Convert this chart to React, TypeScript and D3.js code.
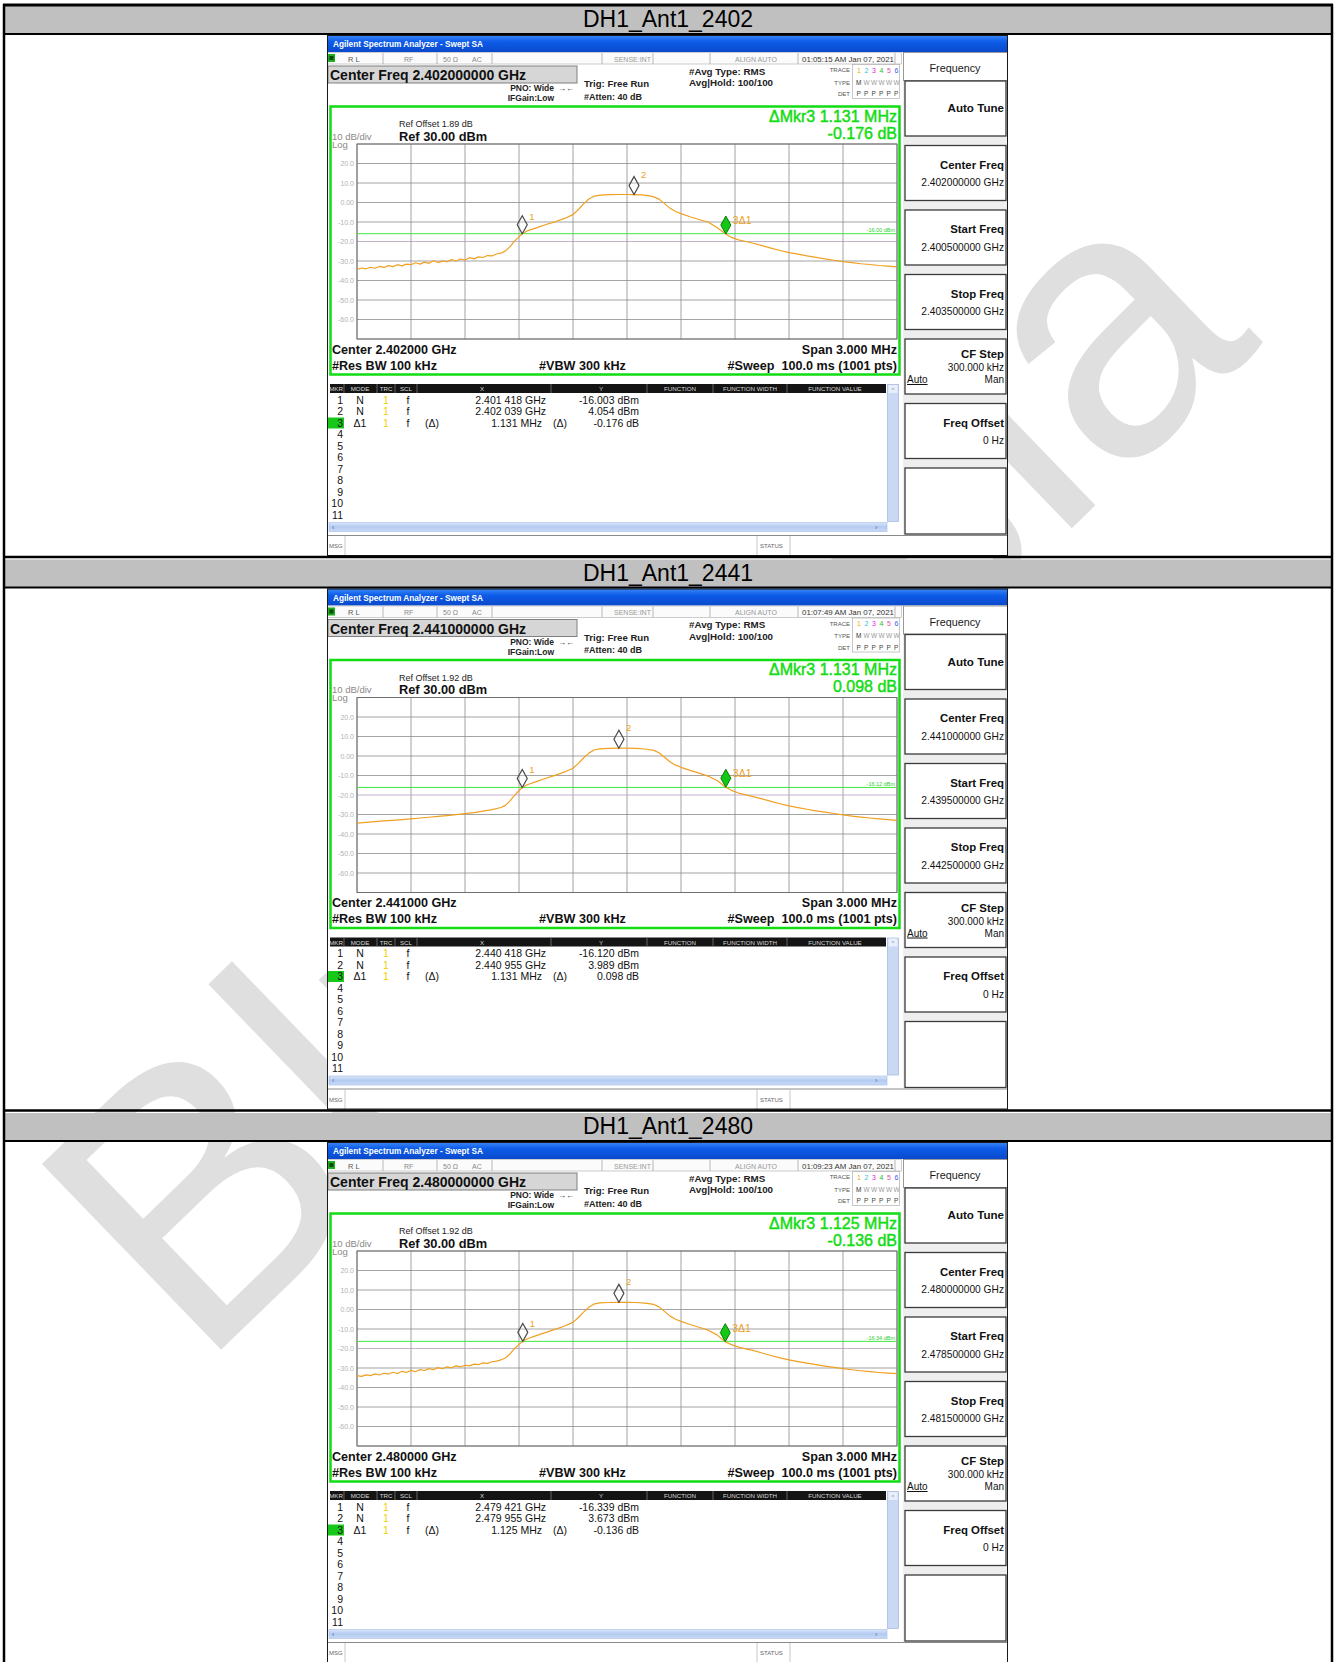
import React from 'react';
import * as d3 from 'd3';

const FONT = '"Liberation Sans", Arial, Helvetica, sans-serif';

const panelTitles = ['DH1_Ant1_2402', 'DH1_Ant1_2441', 'DH1_Ant1_2480'];
const centerFreqsGHz = [2.402, 2.441, 2.48];
const refOffsetsDb = ['1.89', '1.92', '1.92'];
const timestamps = ['01:05:15 AM Jan 07, 2021', '01:07:49 AM Jan 07, 2021', '01:09:23 AM Jan 07, 2021'];
const marker1FreqGHz = [2.401418, 2.440418, 2.479421];
const marker1LevelDbm = [-16.003, -16.12, -16.339];
const marker2FreqGHz = [2.402039, 2.440955, 2.479955];
const marker2LevelDbm = [4.054, 3.989, 3.673];
const deltaFreqMHz = [1.131, 1.131, 1.125];
const deltaLevelDb = [-0.176, 0.098, -0.136];
const displayLineDbm = [-16.0, -16.12, -16.34];
const yTickValues = [20, 10, 0, -10, -20, -30, -40, -50, -60];
const yTickLabels = ['20.0', '10.0', '0.00', '-10.0', '-20.0', '-30.0', '-40.0', '-50.0', '-60.0'];

const trace2402Offsets = [-1.5, -1.475, -1.45, -1.425, -1.4, -1.375, -1.35, -1.325, -1.3, -1.275, -1.25, -1.225, -1.2, -1.175, -1.15, -1.125, -1.1, -1.075, -1.05, -1.025, -1.0, -0.975, -0.95, -0.925, -0.9, -0.875, -0.85, -0.825, -0.8, -0.775, -0.75, -0.725, -0.7, -0.675, -0.65, -0.625, -0.6, -0.582, -0.55, -0.5, -0.45, -0.4, -0.35, -0.3, -0.27, -0.24, -0.21, -0.18, -0.15, -0.1, -0.05, 0, 0.039, 0.08, 0.12, 0.15, 0.18, 0.21, 0.24, 0.27, 0.3, 0.35, 0.4, 0.45, 0.5, 0.549, 0.58, 0.62, 0.66, 0.7, 0.75, 0.8, 0.85, 0.9, 0.95, 1.0, 1.05, 1.1, 1.15, 1.2, 1.25, 1.3, 1.35, 1.4, 1.45, 1.5];
const trace2402Levels = [-34.3, -33.6, -34.0, -33.2, -33.7, -32.8, -33.3, -32.4, -32.9, -31.9, -32.5, -31.6, -31.9, -30.9, -31.6, -30.6, -31.2, -29.9, -30.8, -30.1, -30.4, -29.3, -30.0, -29.0, -29.5, -28.3, -28.9, -27.9, -28.2, -27.2, -27.4, -26.4, -26.0, -24.8, -22.6, -19.8, -17.6, -16.0, -14.4, -12.9, -11.3, -9.9, -8.3, -6.2, -3.6, -0.6, 1.9, 3.3, 3.8, 4.0, 4.1, 4.1, 4.05, 3.9, 3.5, 2.9, 1.6, -0.7, -3.0, -4.6, -5.7, -7.3, -8.7, -10.0, -12.8, -16.2, -17.9, -19.2, -20.0, -20.9, -22.1, -23.4, -24.6, -25.7, -26.5, -27.4, -28.1, -28.9, -29.6, -30.3, -30.8, -31.4, -31.8, -32.3, -32.6, -33.0];

const trace2441Offsets = [-1.5, -1.45, -1.4, -1.35, -1.3, -1.25, -1.2, -1.15, -1.1, -1.05, -1.0, -0.95, -0.9, -0.85, -0.8, -0.75, -0.7, -0.675, -0.65, -0.625, -0.6, -0.582, -0.55, -0.5, -0.45, -0.4, -0.35, -0.3, -0.27, -0.24, -0.21, -0.18, -0.15, -0.1, -0.045, 0, 0.05, 0.1, 0.15, 0.18, 0.21, 0.24, 0.27, 0.3, 0.35, 0.4, 0.45, 0.5, 0.549, 0.58, 0.62, 0.66, 0.7, 0.75, 0.8, 0.85, 0.9, 0.95, 1.0, 1.05, 1.1, 1.15, 1.2, 1.25, 1.3, 1.35, 1.4, 1.45, 1.5];
const trace2441Levels = [-34.4, -34.0, -33.7, -33.3, -33.0, -32.6, -32.2, -31.8, -31.4, -31.0, -30.6, -30.1, -29.6, -29.0, -28.3, -27.5, -26.4, -25.3, -23.0, -20.2, -17.8, -16.1, -14.6, -13.0, -11.4, -9.9, -8.3, -6.3, -3.8, -0.9, 1.6, 3.2, 3.7, 3.9, 4.0, 4.0, 3.9, 3.6, 2.9, 1.5, -0.8, -3.1, -4.7, -5.8, -7.4, -8.8, -10.3, -12.6, -16.0, -17.6, -19.0, -19.9, -20.8, -22.0, -23.3, -24.5, -25.6, -26.5, -27.3, -28.1, -28.8, -29.5, -30.2, -30.8, -31.3, -31.8, -32.2, -32.6, -33.0];

const trace2480Offsets = [-1.5, -1.475, -1.45, -1.425, -1.4, -1.375, -1.35, -1.325, -1.3, -1.275, -1.25, -1.225, -1.2, -1.175, -1.15, -1.125, -1.1, -1.075, -1.05, -1.025, -1.0, -0.975, -0.95, -0.925, -0.9, -0.875, -0.85, -0.825, -0.8, -0.775, -0.75, -0.725, -0.7, -0.675, -0.65, -0.625, -0.6, -0.579, -0.55, -0.5, -0.45, -0.4, -0.35, -0.3, -0.27, -0.24, -0.21, -0.18, -0.15, -0.1, -0.045, 0, 0.05, 0.1, 0.15, 0.18, 0.21, 0.24, 0.27, 0.3, 0.35, 0.4, 0.45, 0.5, 0.546, 0.58, 0.62, 0.66, 0.7, 0.75, 0.8, 0.85, 0.9, 0.95, 1.0, 1.05, 1.1, 1.15, 1.2, 1.25, 1.3, 1.35, 1.4, 1.45, 1.5];
const trace2480Levels = [-33.9, -34.3, -33.5, -33.9, -33.0, -33.6, -32.7, -33.1, -32.2, -32.8, -31.7, -32.3, -31.2, -31.9, -30.8, -31.3, -30.3, -30.9, -29.8, -30.4, -29.4, -29.9, -28.9, -29.4, -28.6, -28.9, -28.0, -28.3, -27.4, -27.6, -26.8, -26.5, -25.8, -24.9, -22.8, -20.1, -17.9, -16.3, -14.9, -13.3, -11.7, -10.2, -8.6, -6.6, -4.1, -1.2, 1.3, 2.9, 3.4, 3.6, 3.7, 3.7, 3.6, 3.3, 2.6, 1.2, -1.1, -3.4, -5.0, -6.1, -7.7, -9.1, -10.6, -13.0, -16.5, -18.0, -19.3, -20.2, -21.0, -22.3, -23.6, -24.8, -25.8, -26.7, -27.5, -28.3, -29.0, -29.7, -30.3, -30.9, -31.4, -31.9, -32.3, -32.6, -32.9];

const traceOffsets = [trace2402Offsets, trace2441Offsets, trace2480Offsets];
const traceLevels = [trace2402Levels, trace2441Levels, trace2480Levels];

const traceDigitColors = ['#f0a800', '#35b8e8', '#d82ad8', '#2cb82c', '#e84aa8', '#3a5cf0'];
const TRACE_COLOR = '#f0a020';
const GREEN = '#12dc12';

const fmtMarkerFreq = (g: number) => {
  const s = g.toFixed(6);
  return s.slice(0, 5) + ' ' + s.slice(5) + ' GHz';
};

const T = (props: any) => <text fontFamily={FONT} {...props} />;

function Panel({ idx, top }: { idx: number; top: number }) {
  const center = centerFreqsGHz[idx];
  const offs = traceOffsets[idx];
  const lv = traceLevels[idx];
  const xS = d3.scaleLinear().domain([-1.5, 1.5]).range([30, 570]);
  const yS = d3.scaleLinear().domain([-70, 30]).range([304, 109]);
  const path = d3.line<number>().x((_, i) => xS(offs[i])).y((d) => yS(d))(lv) || '';
  const vTicks = d3.range(11).map((k) => -1.5 + k * 0.3);
  const hTicks = d3.range(-70, 31, 10);

  const m1o = (marker1FreqGHz[idx] - center) * 1000;
  const m2o = (marker2FreqGHz[idx] - center) * 1000;
  const m3o = m1o + deltaFreqMHz[idx];
  const m3l = marker1LevelDbm[idx] + deltaLevelDb[idx];
  const diamond = (cx: number, cy: number) => `M${cx},${cy} L${cx + 5},${cy - 9} L${cx},${cy - 18} L${cx - 5},${cy - 9} Z`;

  const rows = [
    { n: '1', mode: 'N', x: fmtMarkerFreq(marker1FreqGHz[idx]), y: marker1LevelDbm[idx].toFixed(3) + ' dBm', d: false },
    { n: '2', mode: 'N', x: fmtMarkerFreq(marker2FreqGHz[idx]), y: marker2LevelDbm[idx].toFixed(3) + ' dBm', d: false },
    { n: '3', mode: 'Δ1', x: deltaFreqMHz[idx].toFixed(3) + ' MHz', y: deltaLevelDb[idx].toFixed(3) + ' dB', d: true },
  ];
  const rowY = (i: number) => 368.5 + i * 11.5;

  const softTops = d3.range(6).map((i) => 46 + i * 64.5);
  const softkeys = [
    { label: 'Auto Tune', value: '' },
    { label: 'Center Freq', value: center.toFixed(9) + ' GHz' },
    { label: 'Start Freq', value: (center - 0.0015).toFixed(9) + ' GHz' },
    { label: 'Stop Freq', value: (center + 0.0015).toFixed(9) + ' GHz' },
    { label: 'CF Step', value: '300.000 kHz' },
    { label: 'Freq Offset', value: '0 Hz' },
  ];

  return (
    <g transform={`translate(327,${top})`}>
      <rect x={0} y={0} width={681} height={521} fill="#ffffff" />
      {/* title bar */}
      <rect x={0} y={0} width={681} height={17} fill="url(#tb)" />
      <T x={6} y={12} fontSize={8.6} fontWeight="bold" fill="#ffffff" textLength={150} lengthAdjust="spacingAndGlyphs">Agilent Spectrum Analyzer - Swept SA</T>
      {/* status row */}
      <rect x={0.5} y={17.5} width={574} height={11.5} fill="#fbfbfb" stroke="#b8b8b8" strokeWidth={0.7} />
      <rect x={1} y={19} width={7} height={8} fill="#1fae1f" />
      <rect x={2.5} y={21} width={4} height={4} fill="#0a4a0a" />
      {[56, 110, 165, 275, 326, 383, 471, 568].map((sx) => (
        <line key={sx} x1={sx} x2={sx} y1={18} y2={29} stroke="#a8a8a8" strokeWidth={0.8} />
      ))}
      <T x={21} y={26.5} fontSize={7.5} fill="#555">R L</T>
      <T x={77} y={26.5} fontSize={7} fill="#888">RF</T>
      <T x={116} y={26.5} fontSize={7} fill="#888">50 Ω</T>
      <T x={145} y={26.5} fontSize={7} fill="#888">AC</T>
      <T x={287} y={26.5} fontSize={7} fill="#999">SENSE:INT</T>
      <T x={408} y={26.5} fontSize={7} fill="#999">ALIGN AUTO</T>
      <T x={475} y={26.5} fontSize={7.6} fill="#333" textLength={92} lengthAdjust="spacingAndGlyphs">{timestamps[idx]}</T>
      {/* center freq box */}
      <rect x={1} y={31} width={249} height={17} fill="#d6d6d6" stroke="#808080" strokeWidth={1} />
      <T x={3} y={45} fontSize={14} fontWeight="bold" fill="#111">{`Center Freq ${center.toFixed(9)} GHz`}</T>
      <T x={227} y={56} fontSize={8.5} fontWeight="bold" fill="#222" textAnchor="end">PNO: Wide</T>
      <T x={231} y={56} fontSize={8} fill="#222">→←</T>
      <T x={227} y={66} fontSize={8.5} fontWeight="bold" fill="#222" textAnchor="end">IFGain:Low</T>
      <T x={257} y={52} fontSize={9.6} fontWeight="bold" fill="#222">Trig: Free Run</T>
      <T x={257} y={64.5} fontSize={9} fontWeight="bold" fill="#222">#Atten: 40 dB</T>
      <T x={362} y={39.5} fontSize={9.8} fontWeight="bold" fill="#222">#Avg Type: RMS</T>
      <T x={362} y={51} fontSize={9.8} fontWeight="bold" fill="#222">Avg|Hold: 100/100</T>
      {/* trace box */}
      <T x={523} y={37} fontSize={6} fill="#555" textAnchor="end">TRACE</T>
      <T x={523} y={49.5} fontSize={6} fill="#555" textAnchor="end">TYPE</T>
      <T x={523} y={61} fontSize={6} fill="#555" textAnchor="end">DET</T>
      <rect x={525.5} y={29.5} width={47} height={34} fill="none" stroke="#b0b0b0" strokeWidth={0.7} />
      {traceDigitColors.map((c, i) => (
        <g key={i}>
          <T x={530 + i * 7.5} y={37.5} fontSize={7} fill={c}>{String(i + 1)}</T>
          <T x={529 + i * 7.5} y={49.5} fontSize={6.5} fill={i === 0 ? '#333' : '#999'}>{i === 0 ? 'M' : 'W'}</T>
          <T x={529.5 + i * 7.5} y={61} fontSize={6.5} fill="#444">P</T>
        </g>
      ))}
      {/* green annotation box */}
      <rect x={3.5} y={71.5} width={569} height={268} fill="none" stroke={GREEN} strokeWidth={2.5} />
      <T x={72} y={92} fontSize={9} fill="#222">{`Ref Offset ${refOffsetsDb[idx]} dB`}</T>
      <T x={72} y={105.5} fontSize={12.8} fontWeight="bold" fill="#111">Ref 30.00 dBm</T>
      <T x={5} y={104.5} fontSize={9.5} fill="#8a8a8a">10 dB/div</T>
      <T x={5} y={112.5} fontSize={9.5} fill="#8a8a8a">Log</T>
      <T x={570} y={86.5} fontSize={16} fill={GREEN} stroke={GREEN} strokeWidth={0.45} textAnchor="end">{`ΔMkr3 ${deltaFreqMHz[idx].toFixed(3)} MHz`}</T>
      <T x={570} y={103.5} fontSize={16} fill={GREEN} stroke={GREEN} strokeWidth={0.45} textAnchor="end">{`${deltaLevelDb[idx].toFixed(3)} dB`}</T>
      {/* graticule */}
      {vTicks.map((v, i) => (
        <line key={'v' + i} x1={xS(v)} x2={xS(v)} y1={yS(-70)} y2={yS(30)} stroke="#8c8c8c" strokeWidth={0.8} />
      ))}
      {hTicks.map((h) => (
        <line key={'h' + h} x1={xS(-1.5)} x2={xS(1.5)} y1={yS(h)} y2={yS(h)} stroke={h === -20 ? '#b49cc0' : '#8c8c8c'} strokeWidth={0.8} />
      ))}
      <rect x={xS(-1.5)} y={yS(30)} width={xS(1.5) - xS(-1.5)} height={yS(-70) - yS(30)} fill="none" stroke="#707070" strokeWidth={1} />
      {yTickValues.map((v, i) => (
        <T key={'yl' + v} x={27} y={yS(v) + 2.5} fontSize={7} fill="#b2b2b2" textAnchor="end">{yTickLabels[i]}</T>
      ))}
      {/* display line */}
      <line x1={xS(-1.5)} x2={xS(1.5)} y1={yS(displayLineDbm[idx])} y2={yS(displayLineDbm[idx])} stroke="#3fe83f" strokeWidth={1} />
      <T x={568} y={yS(displayLineDbm[idx]) - 1.5} fontSize={5.5} fill="#2fcf2f" textAnchor="end">{`${displayLineDbm[idx].toFixed(2)} dBm`}</T>
      {/* trace */}
      <path d={path} fill="none" stroke={TRACE_COLOR} strokeWidth={1.2} strokeLinejoin="round" />
      {/* markers */}
      <path d={diamond(xS(m1o), yS(marker1LevelDbm[idx]))} fill="#ffffff" fillOpacity={0.2} stroke="#4a4a4a" strokeWidth={1.2} />
      <T x={xS(m1o) + 7} y={yS(marker1LevelDbm[idx]) - 14} fontSize={9.5} fill={TRACE_COLOR}>1</T>
      <path d={diamond(xS(m2o), yS(marker2LevelDbm[idx]))} fill="#ffffff" fillOpacity={0.2} stroke="#4a4a4a" strokeWidth={1.2} />
      <T x={xS(m2o) + 7} y={yS(marker2LevelDbm[idx]) - 17} fontSize={9.5} fill={TRACE_COLOR}>2</T>
      <path d={diamond(xS(m3o), yS(m3l))} fill="#14c814" stroke="#0a7a0a" strokeWidth={1} />
      <T x={xS(m3o) + 7} y={yS(m3l) - 10} fontSize={10.5} fill={TRACE_COLOR}>3Δ1</T>
      {/* bottom annotations */}
      <T x={5} y={318.5} fontSize={12.6} fontWeight="bold" fill="#111">{`Center ${center.toFixed(6)} GHz`}</T>
      <T x={570} y={318.5} fontSize={12.6} fontWeight="bold" fill="#111" textAnchor="end">Span 3.000 MHz</T>
      <T x={5} y={334.5} fontSize={12.6} fontWeight="bold" fill="#111">#Res BW 100 kHz</T>
      <T x={212} y={334.5} fontSize={12.6} fontWeight="bold" fill="#111">#VBW 300 kHz</T>
      <T x={570} y={334.5} fontSize={12.6} fontWeight="bold" fill="#111" textAnchor="end" xmlSpace="preserve">#Sweep  100.0 ms (1001 pts)</T>
      {/* marker table */}
      <rect x={3} y={349} width={556} height={9} fill="#141414" />
      {[17, 50, 68, 90, 224, 320, 386, 460].map((sx) => (
        <line key={'s' + sx} x1={sx} x2={sx} y1={349} y2={358} stroke="#777" strokeWidth={0.8} />
      ))}
      {[
        ['MKR', 9], ['MODE', 33], ['TRC', 59], ['SCL', 79], ['X', 155], ['Y', 274], ['FUNCTION', 353], ['FUNCTION WIDTH', 423], ['FUNCTION VALUE', 508],
      ].map(([t, cx]) => (
        <T key={'hd' + t} x={cx as number} y={356} fontSize={6.2} fill="#d8d8d8" textAnchor="middle">{t as string}</T>
      ))}
      <rect x={1} y={rowY(2) - 9} width={16} height={11} fill="#18c818" />
      {rows.map((r, i) => (
        <g key={'r' + i}>
          <T x={16} y={rowY(i)} fontSize={10.5} fill="#111" textAnchor="end">{r.n}</T>
          <T x={33} y={rowY(i)} fontSize={10.5} fill="#111" textAnchor="middle">{r.mode}</T>
          <T x={59} y={rowY(i)} fontSize={10.5} fill="#f0d000" textAnchor="middle">1</T>
          <T x={81} y={rowY(i)} fontSize={10.5} fill="#111" textAnchor="middle">f</T>
          {r.d && <T x={105} y={rowY(i)} fontSize={10.5} fill="#111" textAnchor="middle">(Δ)</T>}
          <T x={r.d ? 215 : 219} y={rowY(i)} fontSize={10.5} fill="#111" textAnchor="end">{r.x}</T>
          {r.d && <T x={226} y={rowY(i)} fontSize={10.5} fill="#111">(Δ)</T>}
          <T x={312} y={rowY(i)} fontSize={10.5} fill="#111" textAnchor="end">{r.y}</T>
        </g>
      ))}
      {d3.range(3, 11).map((i) => (
        <T key={'n' + i} x={16} y={rowY(i)} fontSize={10.5} fill="#111" textAnchor="end">{String(i + 1)}</T>
      ))}
      {/* scrollbars */}
      <rect x={560.5} y={349.5} width={11} height={137} fill="#c9d9f4" stroke="#9fb4dc" strokeWidth={0.7} />
      <rect x={561.5} y={350} width={9} height={8} fill="#e9effa" />
      <T x={566} y={356.5} fontSize={6} fill="#6b7fa8" textAnchor="middle">^</T>
      <rect x={2} y={487.5} width={558} height={9} fill="url(#hs)" stroke="#a6bde6" strokeWidth={0.6} />
      <T x={5} y={494.5} fontSize={7} fill="#5870a0">‹</T>
      <T x={548} y={494.5} fontSize={7} fill="#5870a0">›</T>
      {/* softkeys */}
      <rect x={576} y={17} width={105} height={483} fill="#eeeeee" />
      <rect x={576.5} y={17.5} width={104} height={28} fill="#ffffff" stroke="#808080" strokeWidth={0.8} />
      <T x={628} y={37} fontSize={10.8} fill="#1a1a1a" textAnchor="middle">Frequency</T>
      {softkeys.map((s, i) => {
        const ty = softTops[i];
        return (
          <g key={'sk' + i}>
            <rect x={578} y={ty} width={101} height={55} fill="#ffffff" stroke="#3a3a3a" strokeWidth={1.3} />
            {s.value === '' ? (
              <T x={677} y={ty + 31} fontSize={11.6} fontWeight="bold" fill="#111" textAnchor="end">{s.label}</T>
            ) : s.label === 'CF Step' ? (
              <g>
                <T x={677} y={ty + 19} fontSize={11.4} fontWeight="bold" fill="#111" textAnchor="end">{s.label}</T>
                <T x={677} y={ty + 32} fontSize={10} fill="#111" textAnchor="end">{s.value}</T>
                <T x={580} y={ty + 44} fontSize={10} fill="#111" textDecoration="underline">Auto</T>
                <T x={677} y={ty + 44} fontSize={10} fill="#111" textAnchor="end">Man</T>
              </g>
            ) : (
              <g>
                <T x={677} y={ty + 23} fontSize={11.4} fontWeight="bold" fill="#111" textAnchor="end">{s.label}</T>
                <T x={677} y={ty + 40.5} fontSize={10.2} fill="#111" textAnchor="end">{s.value}</T>
              </g>
            )}
          </g>
        );
      })}
      <rect x={578} y={433} width={101} height={66} fill="#ffffff" stroke="#3a3a3a" strokeWidth={1.3} />
      {/* message bar */}
      <rect x={0} y={500} width={681} height={21} fill="#ffffff" />
      <line x1={0} x2={681} y1={500.5} y2={500.5} stroke="#8a8a8a" strokeWidth={1} />
      <line x1={18} x2={18} y1={501} y2={521} stroke="#bbb" strokeWidth={0.8} />
      <line x1={430} x2={430} y1={501} y2={521} stroke="#bbb" strokeWidth={0.8} />
      <line x1={463} x2={463} y1={501} y2={521} stroke="#bbb" strokeWidth={0.8} />
      <T x={2} y={513} fontSize={6} fill="#666">MSG</T>
      <T x={433} y={513} fontSize={6} fill="#666">STATUS</T>
      <rect x={0.5} y={0.5} width={680} height={520} fill="none" stroke="#1a1a1a" strokeWidth={1} />
    </g>
  );
}

export default function App() {
  const blockPitch = 553.5;
  return (
    <svg width={1336} height={1662} viewBox="0 0 1336 1662" style={{ position: 'absolute', left: 0, top: 0, display: 'block' }}>
      <defs>
        <linearGradient id="tb" x1="0" y1="0" x2="0" y2="1">
          <stop offset="0" stopColor="#3d88f8" />
          <stop offset="0.4" stopColor="#0d5ce8" />
          <stop offset="1" stopColor="#0a49cc" />
        </linearGradient>
        <linearGradient id="hs" x1="0" y1="0" x2="0" y2="1">
          <stop offset="0" stopColor="#dbe6f9" />
          <stop offset="0.5" stopColor="#b3cbf1" />
          <stop offset="1" stopColor="#c9daf6" />
        </linearGradient>
      </defs>
      <rect x={0} y={0} width={1336} height={1662} fill="#ffffff" />
      <text
        transform="translate(199,1371) rotate(-44)"
        fontFamily={FONT}
        fontSize={375}
        fill="#dfdfdf"
      >
        BlueAsia
      </text>
      {panelTitles.map((t, i) => {
        const y0 = 6 + i * blockPitch;
        return (
          <g key={t}>
            <rect x={5} y={y0} width={1326} height={27.5} fill="#c0c0c0" />
            <text x={668} y={y0 + 21} fontFamily={FONT} fontSize={23} fill="#000" textAnchor="middle">{t}</text>
          </g>
        );
      })}
      {panelTitles.map((t, i) => (
        <Panel key={'p' + t} idx={i} top={35 + i * blockPitch} />
      ))}
      {panelTitles.map((t, i) => (
        <g key={'l' + t}>
          <line x1={3} x2={1333} y1={34 + i * blockPitch} y2={34 + i * blockPitch} stroke="#000" strokeWidth={2.2} />
          <line x1={3} x2={1333} y1={557 + i * blockPitch} y2={557 + i * blockPitch} stroke="#000" strokeWidth={2.5} />
        </g>
      ))}
      <line x1={3} x2={1333} y1={5} y2={5} stroke="#000" strokeWidth={2.8} />
      <line x1={4} x2={4} y1={4} y2={1662} stroke="#000" strokeWidth={2.5} />
      <line x1={1332} x2={1332} y1={4} y2={1662} stroke="#000" strokeWidth={2.5} />
    </svg>
  );
}
